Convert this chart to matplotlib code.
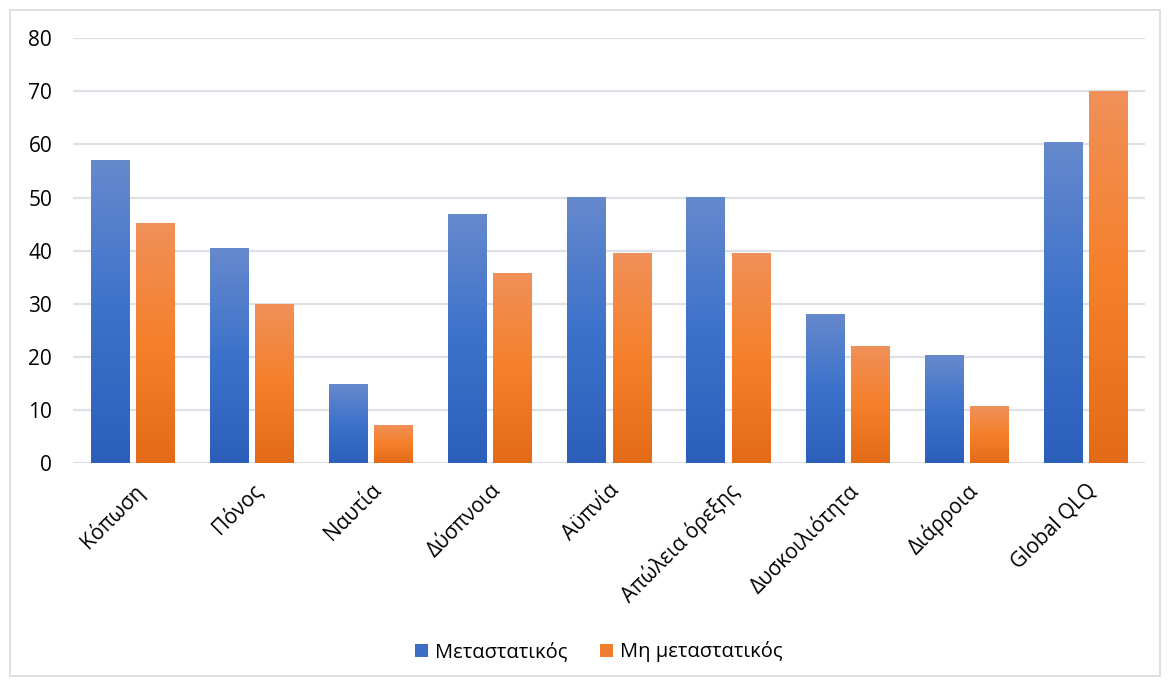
import matplotlib
matplotlib.use("Agg")
import matplotlib.pyplot as plt
import numpy as np
from matplotlib.colors import LinearSegmentedColormap
from matplotlib.patches import Rectangle, Patch

categories = ["Κόπωση", "Πόνος", "Ναυτία", "Δύσπνοια", "Αϋπνία",
              "Απώλεια όρεξης", "Δυσκοιλιότητα", "Διάρροια", "Global QLQ"]
metastatic = [57.1, 40.5, 14.8, 46.9, 50.1, 50.1, 28.1, 20.3, 60.5]
non_metastatic = [45.3, 30.0, 7.2, 35.8, 39.6, 39.6, 22.0, 10.7, 70.0]
series_names = ["Μεταστατικός", "Μη μεταστατικός"]
yticks = [0, 10, 20, 30, 40, 50, 60, 70, 80]

plt.rcParams['font.family'] = ['Open Sans', 'DejaVu Sans']

fig = plt.figure(figsize=(11.7, 6.84), dpi=100)
ax = fig.add_axes([0.0624, 0.323, 0.9162, 0.621])

blue_cmap = LinearSegmentedColormap.from_list("b", ["#2c5fba", "#3d72ca", "#6689cd"])
orange_cmap = LinearSegmentedColormap.from_list("o", ["#e36b18", "#f5802b", "#f09059"])

x = np.arange(len(categories))
w = 0.32
off = 0.19
grad = np.linspace(0, 1, 256).reshape(-1, 1)

for vals, o, cmap in [(metastatic, -off, blue_cmap), (non_metastatic, off, orange_cmap)]:
    bars = ax.bar(x + o, vals, width=w, color="none", edgecolor="none", zorder=3)
    for b in bars:
        x0, h = b.get_x(), b.get_height()
        im = ax.imshow(grad, cmap=cmap, aspect="auto", origin="lower",
                       extent=(x0, x0 + b.get_width(), 0, h), zorder=3)
        im.set_clip_path(b)

ax.set_xlim(-0.5, len(categories) - 0.5)
ax.set_ylim(0, 80)
ax.set_yticks(yticks)
ax.set_yticklabels([str(t) for t in yticks], fontsize=15)
ax.yaxis.grid(True, color="#dde1e7", linewidth=1.6, zorder=0)
ax.set_axisbelow(True)
for s in ax.spines.values():
    s.set_visible(False)
ax.tick_params(axis="both", length=0)
ax.tick_params(axis="y", pad=15)
ax.set_xticks(x)
ax.set_xticklabels(categories, rotation=45, ha="right", rotation_mode="anchor", fontsize=15)
ax.tick_params(axis="x", pad=12)

handles = [Patch(facecolor="#3d6fc6", label=series_names[0]),
           Patch(facecolor="#f07e30", label=series_names[1])]
fig.legend(handles=handles, loc="center", bbox_to_anchor=(0.512, 0.047), ncol=2,
           frameon=False, fontsize=14.5, handlelength=0.65, handleheight=0.65,
           handletextpad=0.35, columnspacing=1.6)

fig.patches.append(Rectangle((10 / 1170, 8 / 684), 1150 / 1170, 666 / 684,
                             transform=fig.transFigure, fill=False,
                             edgecolor="#d9d9d9", linewidth=1.2))

fig.savefig("out.png", dpi=100)
